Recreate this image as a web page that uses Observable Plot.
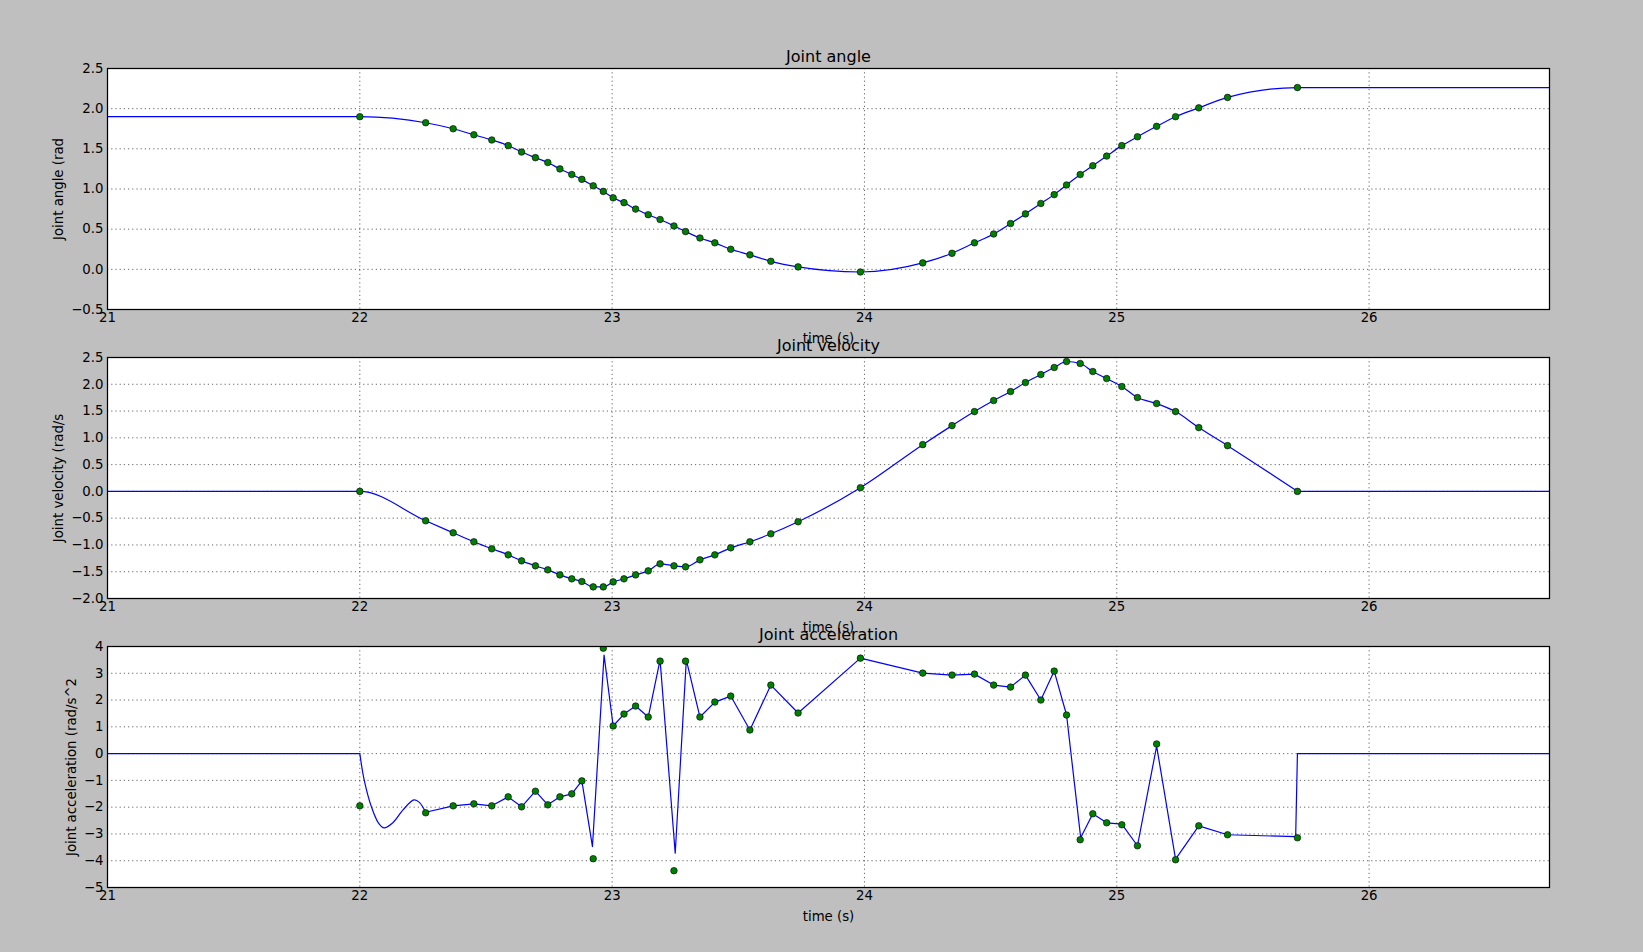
<!DOCTYPE html>
<html>
<head>
<meta charset="utf-8">
<script src="https://cdn.jsdelivr.net/npm/d3@7"></script>
<script src="https://cdn.jsdelivr.net/npm/@observablehq/plot@0.6"></script>
<style>
  html, body { margin: 0; padding: 0; background: #bfbfbf; }
  #fig { position: relative; width: 1643px; height: 952px; background: #bfbfbf; overflow: hidden; }
  #fig svg { position: absolute; left: 0; }
</style>
</head>
<body>
<div id="fig"></div>
<script>
// ---- data ----
const xDomain = [21, 26.715];
const xTicks = [21, 22, 23, 24, 25, 26];
const angleTicks = [-0.5, 0, 0.5, 1, 1.5, 2, 2.5];
const velTicks = [-2, -1.5, -1, -0.5, 0, 0.5, 1, 1.5, 2, 2.5];
const accTicks = [-5, -4, -3, -2, -1, 0, 1, 2, 3, 4];

const titles = ["Joint angle", "Joint velocity", "Joint acceleration"];
const yLabels = ["Joint angle (rad", "Joint velocity (rad/s", "Joint acceleration (rad/s^2"];
const xLabel = "time (s)";

// sample times (green markers)
const times = [22.0, 22.261, 22.370, 22.452, 22.523, 22.588, 22.641, 22.696, 22.745, 22.793,
  22.840, 22.880, 22.925, 22.965, 23.004, 23.047, 23.093, 23.143, 23.190, 23.245,
  23.291, 23.348, 23.407, 23.470, 23.546, 23.629, 23.737, 23.984, 24.231, 24.347,
  24.436, 24.512, 24.579, 24.638, 24.699, 24.752, 24.801, 24.855, 24.905, 24.960,
  25.020, 25.082, 25.158, 25.233, 25.325, 25.439, 25.716];

const angle = [1.90, 1.825, 1.75, 1.675, 1.61, 1.54, 1.46, 1.39, 1.33, 1.25,
  1.18, 1.12, 1.04, 0.97, 0.89, 0.83, 0.75, 0.68, 0.62, 0.54,
  0.47, 0.39, 0.33, 0.25, 0.18, 0.10, 0.03, -0.033, 0.08, 0.20,
  0.33, 0.44, 0.57, 0.69, 0.82, 0.93, 1.05, 1.18, 1.29, 1.41,
  1.54, 1.65, 1.78, 1.90, 2.01, 2.14, 2.2625];

const velocity = [0, -0.549, -0.773, -0.941, -1.072, -1.185, -1.297, -1.390, -1.465, -1.559,
  -1.633, -1.683, -1.783, -1.783, -1.690, -1.633, -1.559, -1.484, -1.353, -1.390,
  -1.409, -1.278, -1.185, -1.054, -0.941, -0.792, -0.567, 0.069, 0.873, 1.228,
  1.490, 1.696, 1.864, 2.032, 2.182, 2.313, 2.425, 2.388, 2.238, 2.107,
  1.958, 1.752, 1.640, 1.490, 1.191, 0.854, 0];

const accel = [-1.95, -2.21, -1.95, -1.876, -1.95, -1.615, -1.988, -1.404, -1.913, -1.615,
  -1.503, -1.019, -3.925, 3.938, 1.031, 1.478, 1.776, 1.366, 3.453, -4.373,
  3.453, 1.366, 1.925, 2.149, 0.882, 2.559, 1.516, 3.565, 3.006, 2.932,
  2.969, 2.559, 2.484, 2.932, 2.0, 3.081, 1.441, -3.217, -2.248, -2.584,
  -2.658, -3.441, 0.360, -3.963, -2.696, -3.031, -3.143];

// held values before / after the motion (flat line parts)
const angleStart = 1.90, angleEnd = 2.2625;
const velStart = 0, velEnd = 0;

// blue acceleration trace
// smooth start-up wiggle between 22.0 and 22.261
const accWiggleT = [22.0, 22.017, 22.045, 22.073, 22.095, 22.131, 22.172, 22.215, 22.236, 22.261];
const accWiggleV = [0, -0.97, -1.96, -2.58, -2.77, -2.58, -2.09, -1.73, -1.82, -2.19];
// remaining trace
const accLineT = [21, 22.0, 22.261, 22.370, 22.452, 22.523, 22.588, 22.641, 22.696, 22.745, 22.793, 22.840,
  22.880, 22.922, 22.968, 23.004, 23.047, 23.093, 23.143, 23.190, 23.250, 23.294,
  23.348, 23.407, 23.470, 23.546, 23.629, 23.737, 23.984, 24.231, 24.347, 24.436,
  24.512, 24.579, 24.638, 24.699, 24.752, 24.801, 24.857, 24.905, 24.960, 25.020,
  25.082, 25.158, 25.233, 25.325, 25.439, 25.709, 25.716, 26.715];
const accLineV = [0, 0, -2.19, -1.95, -1.876, -1.95, -1.615, -1.988, -1.404, -1.913, -1.615, -1.503,
  -1.019, -3.47, 3.68, 1.031, 1.478, 1.776, 1.366, 3.50, -3.72, 3.50,
  1.366, 1.925, 2.149, 0.882, 2.559, 1.516, 3.565, 3.006, 2.932, 2.969,
  2.559, 2.484, 2.932, 2.0, 3.081, 1.441, -3.14, -2.248, -2.584, -2.63,
  -3.441, 0.28, -3.94, -2.696, -3.031, -3.10, 0, 0];

// ---- build tables ----
const pts = (vals) => times.map((t, i) => ({t, v: vals[i]}));
const anglePts = pts(angle);
const velPts = pts(velocity);
const accPts = pts(accel);
const angleLine = [{t: xDomain[0], v: angleStart}, ...anglePts, {t: xDomain[1], v: angleEnd}];
const velLine = [{t: xDomain[0], v: velStart}, ...velPts];
const velTail = [{t: times[times.length - 1], v: velocity[velocity.length - 1]}, {t: xDomain[1], v: velEnd}];
// split trace: segment before the wiggle, wiggle, and after
const accHead = accLineT.slice(0, 2).map((t, i) => ({t, v: accLineV[i]}));
const accRest = accLineT.slice(2).map((t, i) => ({t, v: accLineV[i + 2]}));
const accWiggle = accWiggleT.map((t, i) => ({t, v: accWiggleV[i]}));

const FONT = "DejaVu Sans, Liberation Sans, sans-serif";
const BLUE = "#0000ff";

function panel({title, ylabel, yDomain, yTicks, fmt, lines, dots, ylabelDx}) {
  return Plot.plot({
    width: 1643,
    height: 331,
    marginLeft: 107,
    marginRight: 94,
    marginTop: 40,
    marginBottom: 50,
    style: {background: "transparent", fontFamily: FONT, fontSize: "13.3px", color: "black", overflow: "visible"},
    x: {domain: xDomain},
    y: {domain: yDomain},
    marks: [
      Plot.frame({fill: "white", stroke: null}),
      Plot.gridX(xTicks, {stroke: "black", strokeOpacity: 0.6, strokeWidth: 1, strokeDasharray: "1.2,3"}),
      Plot.gridY(yTicks, {stroke: "black", strokeOpacity: 0.6, strokeWidth: 1, strokeDasharray: "1.2,3"}),
      Plot.axisX(xTicks, {tickSize: 0, tickPadding: 3, label: null, tickFormat: d3.format("d"), fill: "black"}),
      Plot.axisY(yTicks, {tickSize: 0, tickPadding: 4, label: null, tickFormat: fmt, fill: "black"}),
      ...lines,
      Plot.dot(dots, {x: "t", y: "v", r: 3.3, fill: "#008000", stroke: "black", strokeWidth: 0.6, clip: true}),
      Plot.frame({stroke: "black", strokeWidth: 1.25}),
      Plot.text([title], {frameAnchor: "top", dy: -11.6, lineAnchor: "middle", fontSize: 16, fill: "black"}),
      Plot.text([xLabel], {frameAnchor: "bottom", dy: 29, lineAnchor: "middle", fontSize: 13.3, fill: "black"}),
      Plot.text([ylabel], {frameAnchor: "left", dx: ylabelDx, rotate: -90, lineAnchor: "middle", textAnchor: "middle", fontSize: 13.3, fill: "black"})
    ]
  });
}

const fig = document.getElementById("fig");

const p1 = panel({
  title: titles[0], ylabel: yLabels[0], yDomain: [-0.5, 2.5], yTicks: angleTicks, fmt: d3.format(".1f"),
  lines: [Plot.line(angleLine, {x: "t", y: "v", stroke: BLUE, strokeWidth: 1.2, curve: "monotone-x", clip: true})],
  dots: anglePts, ylabelDx: -49
});
const p2 = panel({
  title: titles[1], ylabel: yLabels[1], yDomain: [-2, 2.5], yTicks: velTicks, fmt: d3.format(".1f"),
  lines: [
    Plot.line(velLine, {x: "t", y: "v", stroke: BLUE, strokeWidth: 1.2, curve: "monotone-x", clip: true}),
    Plot.line(velTail, {x: "t", y: "v", stroke: BLUE, strokeWidth: 1.2, clip: true})
  ],
  dots: velPts, ylabelDx: -49
});
const p3 = panel({
  title: titles[2], ylabel: yLabels[2], yDomain: [-5, 4], yTicks: accTicks, fmt: d3.format("d"),
  lines: [
    Plot.line(accHead, {x: "t", y: "v", stroke: BLUE, strokeWidth: 1.2, clip: true}),
    Plot.line(accWiggle, {x: "t", y: "v", stroke: BLUE, strokeWidth: 1.2, curve: "catmull-rom", clip: true}),
    Plot.line(accRest, {x: "t", y: "v", stroke: BLUE, strokeWidth: 1.2, clip: true})
  ],
  dots: accPts, ylabelDx: -36
});

const tops = [28.3, 317.3, 606.3];
[p1, p2, p3].forEach((p, i) => {
  p.style.top = tops[i] + "px";
  fig.appendChild(p);
});
</script>
</body>
</html>
